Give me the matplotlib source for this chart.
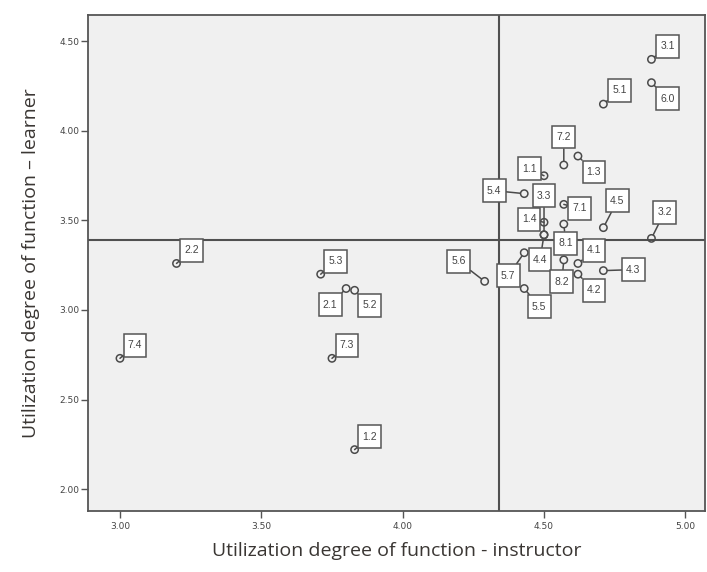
import matplotlib
matplotlib.use("Agg")
import matplotlib.pyplot as plt
from matplotlib.path import Path

# function codes and mean utilization scores
labels = ["3.1", "6.0", "5.1", "7.2", "1.3", "1.1", "5.4", "3.3", "7.1", "1.4",
          "8.1", "4.5", "3.2", "4.4", "5.7", "8.2", "4.1", "4.3", "4.2", "5.6",
          "5.5", "2.2", "5.3", "2.1", "5.2", "7.4", "7.3", "1.2"]
instructor = [4.88, 4.88, 4.71, 4.57, 4.62, 4.50, 4.43, 4.50, 4.57, 4.50,
              4.57, 4.71, 4.88, 4.50, 4.43, 4.57, 4.62, 4.71, 4.62, 4.29,
              4.43, 3.20, 3.71, 3.80, 3.83, 3.00, 3.75, 3.83]
learner = [4.40, 4.27, 4.15, 3.81, 3.86, 3.75, 3.65, 3.42, 3.59, 3.49,
           3.48, 3.46, 3.40, 3.42, 3.32, 3.28, 3.26, 3.22, 3.20, 3.16,
           3.12, 3.26, 3.20, 3.12, 3.11, 2.73, 2.73, 2.22]
mean_instructor = 4.342
mean_learner = 3.391

xticks = [3.00, 3.50, 4.00, 4.50, 5.00]
yticks = [2.00, 2.50, 3.00, 3.50, 4.00, 4.50]

# label box placement (pixels from point)
offsets = {"3.1": (16, 13), "6.0": (16, -16), "5.1": (16, 14), "7.2": (0, 28),
           "1.3": (16, -16), "1.1": (-15, 7), "5.4": (-30, 3), "3.3": (0, 39),
           "7.1": (16, -4), "1.4": (-15, 3), "8.1": (2, -19), "4.5": (14, 27),
           "3.2": (13, 26), "4.4": (-4, -25), "5.7": (-16, -23), "8.2": (-2, -22),
           "4.1": (16, 13), "4.3": (30, 1), "4.2": (16, -16), "5.6": (-26, 20),
           "5.5": (15, -18), "2.2": (15, 13), "5.3": (15, 13), "2.1": (-16, -16),
           "5.2": (15, -15), "7.4": (15, 13), "7.3": (15, 13), "1.2": (15, 13)}


def square_box(x0, y0, width, height, mutation_size):
    # SPSS-like square label box
    side = max(width, height) + 0.8 * mutation_size
    cx, cy = x0 + width / 2, y0 + height / 2
    h = side / 2
    verts = [(cx - h, cy - h), (cx + h, cy - h), (cx + h, cy + h),
             (cx - h, cy + h), (cx - h, cy - h)]
    return Path(verts, closed=True)


fig = plt.figure(figsize=(7.07, 5.72), dpi=100)
ax = fig.add_axes([0.1245, 0.1066, 0.8725, 0.8672])
ax.set_facecolor("#f0f0f0")

ax.axvline(mean_instructor, color="#505050", lw=1.5, zorder=1)
ax.axhline(mean_learner, color="#505050", lw=1.5, zorder=1)

ax.scatter(instructor, learner, s=28, facecolors="none", edgecolors="#4a4a4a",
           linewidths=1.1, zorder=3)

for lab, x, y in zip(labels, instructor, learner):
    ax.annotate(lab, (x, y), xytext=offsets[lab], textcoords="offset pixels",
                ha="center", va="center", fontsize=7.5, color="#444444",
                family="Liberation Sans",
                bbox=dict(boxstyle=square_box, fc="white", ec="#555555", lw=1.1),
                arrowprops=dict(arrowstyle="-", color="#4a4a4a", lw=1.1,
                                shrinkA=0, shrinkB=3),
                zorder=4)

ax.set_xlim(2.887, 5.069)
ax.set_ylim(1.877, 4.648)
ax.set_xticks(xticks)
ax.set_yticks(yticks)
ax.set_xticklabels(["%.2f" % t for t in xticks])
ax.set_yticklabels(["%.2f" % t for t in yticks])
ax.tick_params(axis="both", direction="out", length=5, width=1, color="#555555",
               labelsize=6.5, labelcolor="#444444")
ax.tick_params(axis="x", pad=3)
ax.tick_params(axis="y", pad=1)
for sp in ["top", "right", "bottom", "left"]:
    ax.spines[sp].set_color("#555555")
    ax.spines[sp].set_linewidth(1.3)

ax.set_xlabel("Utilization degree of function - instructor", fontsize=14,
              family="Open Sans", color="#3a3633", labelpad=8)
ax.set_ylabel("Utilization degree of function \u2013 learner", fontsize=14,
              family="Open Sans", color="#3a3633", labelpad=14)

fig.savefig("out.png", dpi=100)
